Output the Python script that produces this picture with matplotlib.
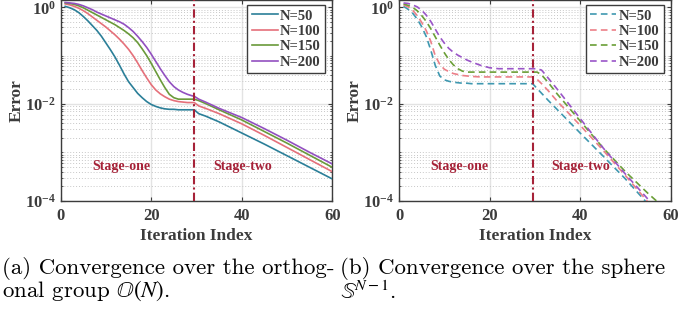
import numpy as np
import matplotlib
matplotlib.use("Agg")
import matplotlib.pyplot as plt
from matplotlib.ticker import LogLocator, NullFormatter, FixedLocator

plt.rcParams['mathtext.fontset'] = 'custom'
plt.rcParams['mathtext.rm'] = 'Liberation Serif:bold'
plt.rcParams['mathtext.it'] = 'Liberation Serif:bold'
plt.rcParams['mathtext.bf'] = 'Liberation Serif:bold'
plt.rcParams['axes.unicode_minus'] = True

# ---------------- data (log10 of error) ----------------
labels = ["N=50", "N=100", "N=150", "N=200"]

iter_a = list(range(1, 30)) + [29.5, 30.5, 32, 35, 40, 45, 50, 55, 60]
log10_err_a_n50 = [0.02, -0.01, -0.05, -0.11, -0.19, -0.28, -0.38, -0.48, -0.60, -0.74, -0.88, -1.03, -1.20,
                   -1.38, -1.54, -1.66, -1.78, -1.87, -1.95, -2.01, -2.05, -2.08, -2.10, -2.11, -2.11, -2.12,
                   -2.12, -2.12, -2.12,
                   -2.12, -2.20, -2.25, -2.37, -2.60, -2.83, -3.07, -3.31, -3.55]
log10_err_a_n100 = [0.07, 0.05, 0.02, -0.02, -0.07, -0.13, -0.20, -0.27, -0.34, -0.41, -0.49, -0.57, -0.66,
                    -0.76, -0.87, -1.00, -1.15, -1.31, -1.46, -1.60, -1.71, -1.79, -1.85, -1.90, -1.93, -1.95,
                    -1.96, -1.97, -1.97,
                    -1.97, -2.04, -2.09, -2.20, -2.41, -2.65, -2.90, -3.15, -3.40]
log10_err_a_n150 = [0.09, 0.08, 0.06, 0.03, -0.01, -0.06, -0.11, -0.16, -0.21, -0.26, -0.31, -0.36, -0.42,
                    -0.48, -0.55, -0.63, -0.73, -0.86, -1.00, -1.16, -1.33, -1.50, -1.66, -1.80, -1.87, -1.90,
                    -1.90, -1.90, -1.90,
                    -1.90, -1.93, -1.99, -2.12, -2.33, -2.57, -2.81, -3.06, -3.31]
log10_err_a_n200 = [0.10, 0.09, 0.08, 0.06, 0.03, -0.01, -0.05, -0.10, -0.14, -0.18, -0.22, -0.26, -0.30,
                    -0.35, -0.42, -0.50, -0.60, -0.71, -0.83, -0.97, -1.12, -1.27, -1.41, -1.54, -1.64, -1.71,
                    -1.76, -1.80, -1.83,
                    -1.84, -1.90, -1.96, -2.09, -2.28, -2.51, -2.75, -3.00, -3.24]

iter_b = list(range(1, 17)) + [18, 20, 22, 25, 29.5, 30.5, 31.5, 33, 35, 40, 45, 50, 55, 58]
log10_err_b_n50 = [0.02, -0.04, -0.12, -0.24, -0.40, -0.60, -0.88, -1.20, -1.42, -1.50, -1.53, -1.55, -1.56,
                   -1.57, -1.57, -1.58,
                   -1.58, -1.58, -1.58, -1.58, -1.58, -1.68, -1.78, -1.93, -2.12, -2.60, -3.07, -3.55, -4.07, -4.35]
log10_err_b_n100 = [0.05, 0.01, -0.06, -0.17, -0.31, -0.48, -0.70, -1.00, -1.18, -1.28, -1.33, -1.37, -1.39,
                    -1.41, -1.42, -1.43,
                    -1.44, -1.44, -1.44, -1.44, -1.44, -1.49, -1.58, -1.73, -1.95, -2.44, -2.95, -3.48, -4.03, -4.30]
log10_err_b_n150 = [0.07, 0.04, 0.00, -0.07, -0.17, -0.29, -0.44, -0.61, -0.78, -0.94, -1.08, -1.19, -1.27,
                    -1.32, -1.34, -1.34,
                    -1.34, -1.34, -1.34, -1.34, -1.34, -1.34, -1.40, -1.56, -1.80, -2.35, -2.90, -3.40, -3.85, -4.10]
log10_err_b_n200 = [0.09, 0.08, 0.05, 0.01, -0.06, -0.16, -0.29, -0.45, -0.61, -0.74, -0.85, -0.93, -0.99,
                    -1.04, -1.09, -1.13,
                    -1.20, -1.25, -1.27, -1.27, -1.27, -1.27, -1.30, -1.47, -1.70, -2.30, -2.90, -3.45, -3.97, -4.30]

stage_split = 29.5
yticks = [1e-4, 1e-2, 1e0]
ytick_labels = [r'$\mathregular{10^{-4}}$', r'$\mathregular{10^{-2}}$', r'$\mathregular{10^{0}}$']
xticks = [0, 20, 40, 60]

colors = ["#2b7f98", "#e5707a", "#6a9a3a", "#9250c0"]
colors_b = ["#3f98b0", "#ec7f88", "#6a9e36", "#9a55c8"]
axis_col = "#3c3c3c"
stage_col = "#a62238"

W, H = 678, 311
fig = plt.figure(figsize=(W / 100, H / 100), dpi=100)

def px_axes(x0, x1, ytop, ybot):
    return [x0 / W, 1 - ybot / H, (x1 - x0) / W, (ybot - ytop) / H]

ax_a = fig.add_axes(px_axes(60.7, 332.3, 0.0, 200.7))
ax_b = fig.add_axes(px_axes(399.0, 670.7, 0.0, 200.7))

serif_bold = dict(family='Liberation Serif', weight='bold')

def style(ax, x, series, cols, ls):
    for lv, c, lab in zip(series, cols, labels):
        ax.plot(x, 10 ** np.array(lv), color=c, lw=1.2, ls=ls, label=lab,
                dashes=(4, 2.5) if ls == '--' else (None, None), zorder=3)
    ax.set_yscale('log')
    ax.set_xlim(0, 60)
    ax.set_ylim(1e-4, 10 ** 0.151)
    ax.yaxis.set_major_locator(FixedLocator(yticks))
    ax.set_yticklabels(ytick_labels)
    ax.yaxis.set_minor_locator(LogLocator(base=10, subs=np.arange(1, 10), numticks=20))
    ax.yaxis.set_minor_formatter(NullFormatter())
    ax.set_xticks(xticks)
    ax.set_xticklabels([str(t) for t in xticks])
    ax.grid(True, which='major', color='#e3e3e3', lw=1.0, zorder=0)
    ax.grid(True, which='minor', axis='y', color='#c8c8c8', lw=0.7, ls=(0, (1, 2)), zorder=0)
    ax.set_axisbelow(True)
    ax.tick_params(which='both', direction='in', colors=axis_col, labelsize=12, top=True, right=True)
    ax.tick_params(which='major', length=3)
    ax.tick_params(axis='x', which='major', pad=5)
    ax.tick_params(which='minor', length=1.5)
    for lab in ax.get_xticklabels() + ax.get_yticklabels():
        lab.set_fontfamily('Liberation Serif')
        lab.set_fontweight('bold')
        lab.set_color(axis_col)
    for s in ax.spines.values():
        s.set_color(axis_col)
        s.set_linewidth(1.0)
    ax.set_xlabel('Iteration Index', fontsize=12.5, color=axis_col, labelpad=3, **serif_bold)
    ax.set_ylabel('Error', fontsize=12.5, color=axis_col, labelpad=0, **serif_bold)
    ax.axvline(stage_split, color=stage_col, lw=1.5, ls=(0, (4, 1.5, 1, 1.5)), zorder=4)
    ax.text(13.3, 10 ** -3.29, 'Stage-one', color=stage_col, fontsize=10, ha='center', va='center', **serif_bold)
    ax.text(40.2, 10 ** -3.29, 'Stage-two', color=stage_col, fontsize=10, ha='center', va='center', **serif_bold)
    leg = ax.legend(loc='upper right', bbox_to_anchor=(1 - 7 / 271.6, 1 - 5 / 200.7),
                    prop=dict(family='Liberation Serif', weight='bold', size=10.5),
                    frameon=True, fancybox=False, framealpha=1, edgecolor=axis_col,
                    handlelength=1.8, handletextpad=0.15, labelspacing=0.15, borderpad=0.3,
                    borderaxespad=0)
    leg.get_frame().set_linewidth(1.0)
    for t in leg.get_texts():
        t.set_color(axis_col)
    return ax

style(ax_a, iter_a, [log10_err_a_n50, log10_err_a_n100, log10_err_a_n150, log10_err_a_n200], colors, '-')
style(ax_b, iter_b, [log10_err_b_n50, log10_err_b_n100, log10_err_b_n150, log10_err_b_n200], colors_b, '--')

cap = dict(fontsize=16.5, family='cmr10', math_fontfamily='stix', color='black', va='center', ha='left')
fig.text(2 / W, 1 - 268 / H, '(a) Convergence over the orthog-', **cap)
fig.text(2 / W, 1 - 291 / H, r'onal group $\mathbb{O}(N)$.', **cap)
fig.text(340 / W, 1 - 268 / H, '(b) Convergence over the sphere', **cap)
fig.text(340 / W, 1 - 291 / H, r'$\mathbb{S}^{N-1}$.', **cap)

fig.savefig('out.png', dpi=100)
